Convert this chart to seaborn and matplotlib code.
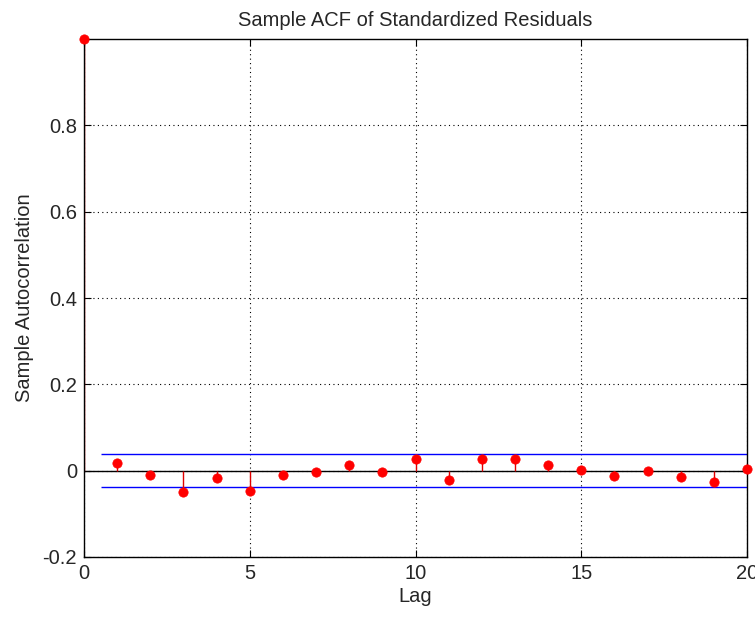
import matplotlib
matplotlib.use("Agg")
import matplotlib.pyplot as plt
import seaborn as sns
import numpy as np
import pandas as pd

lags = list(range(0, 21))
acf = [1.0, 0.017, -0.009, -0.050, -0.018, -0.048, -0.009, -0.003, 0.012, -0.003,
       0.028, -0.022, 0.026, 0.028, 0.014, 0.002, -0.012, 0.0, -0.015, -0.027, 0.005]
bound = 0.0385
xticks = [0, 5, 10, 15, 20]
yticks = [-0.2, 0, 0.2, 0.4, 0.6, 0.8]
yticklabels = ["-0.2", "0", "0.2", "0.4", "0.6", "0.8"]

sns.set_style("white")
plt.rcParams['font.family'] = ['Liberation Sans', 'DejaVu Sans']

df = pd.DataFrame({"Lag": lags, "ACF": acf})

fig = plt.figure(figsize=(7.55, 6.17), dpi=100)
ax = fig.add_axes([84/755, 60/617, 663/755, 518/617])

ax.vlines(df["Lag"], 0, df["ACF"], colors="#e00000", linewidth=1.0, zorder=2.2)
ax.axhline(0, color="black", linewidth=1.0, zorder=2.1)
ax.hlines([bound, -bound], 0.5, 20, colors="#0000ff", linewidth=1.0, zorder=2.1)
sns.scatterplot(data=df, x="Lag", y="ACF", ax=ax, color="red", s=45,
                edgecolor="red", linewidth=0.5, zorder=4, clip_on=False, legend=False)

ax.set_xlim(0, 20)
ax.set_ylim(-0.2, 1.0)
ax.set_xticks(xticks)
ax.set_xticklabels([str(t) for t in xticks])
ax.set_yticks(yticks)
ax.set_yticklabels(yticklabels)
ax.grid(True, color="black", linestyle=(0, (1, 3)), linewidth=0.8)
ax.tick_params(direction="in", length=5, colors="black", labelcolor="#262626",
               labelsize=14.5, pad=5, top=True, right=True, bottom=True, left=True)
for s in ax.spines.values():
    s.set_color("black")
    s.set_linewidth(1.0)
    s.set_visible(True)
    s.set_zorder(3)

ax.set_xlabel("Lag", fontsize=14.5, color="#262626", labelpad=3)
ax.set_ylabel("Sample Autocorrelation", fontsize=14.5, color="#262626", labelpad=6)
ax.set_title("Sample ACF of Standardized Residuals", fontsize=14.5, color="#262626", pad=9)

fig.savefig("out.png", dpi=100)
